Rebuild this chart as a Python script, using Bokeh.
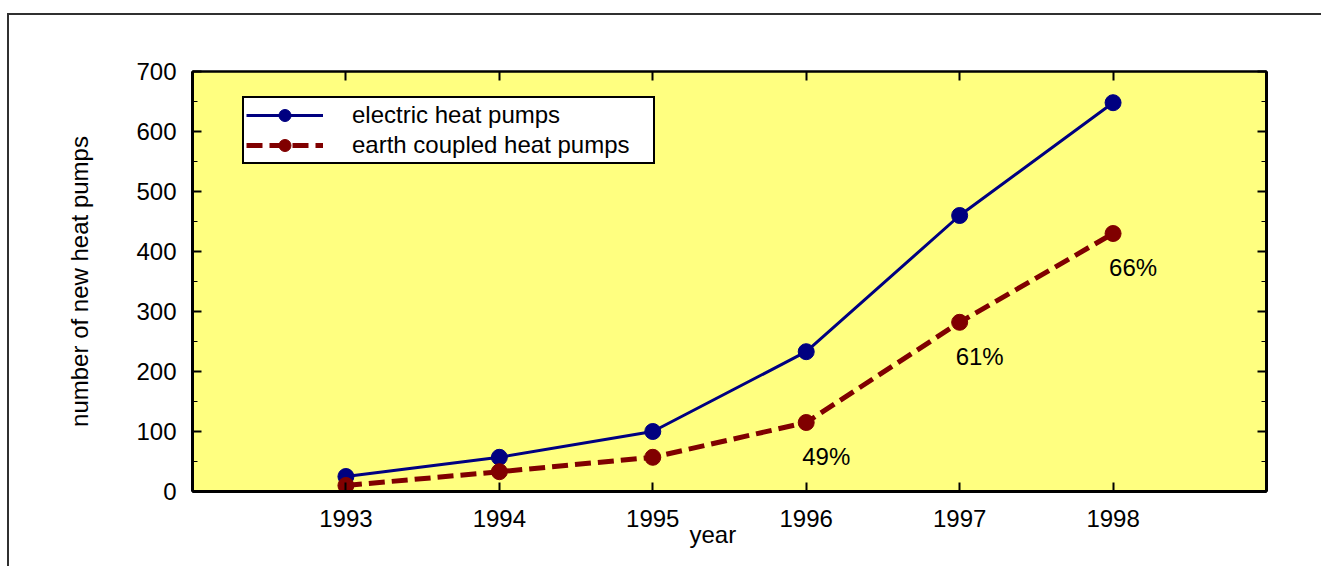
from bokeh.plotting import figure
from bokeh.models import (ColumnDataSource, Range1d, LinearAxis, FixedTicker, Legend, LegendItem)
from bokeh.embed import file_html
from bokeh.resources import INLINE
from bokeh.core.properties import value

years = [1993, 1994, 1995, 1996, 1997, 1998]
electric = [25, 57, 100, 233, 460, 648]
earth = [10, 33, 57, 115, 282, 430]
pct_years = [1996, 1997, 1998]
pct_values = [115, 282, 430]
pct_labels = ["49%", "61%", "66%"]
y_ticks = [0, 100, 200, 300, 400, 500, 600, 700]
y_minor = [50, 150, 250, 350, 450, 550, 650]

FONT = "Liberation Sans"
FS = "24px"

p = figure(width=1314, height=553, output_backend="svg", toolbar_location=None,
           x_range=Range1d(1992, 1999), y_range=Range1d(0, 700),
           min_border_left=183, min_border_right=57, min_border_top=56, min_border_bottom=77,
           background_fill_color="#FFFF80", border_fill_color="white")
# outer frame (top and left lines only, as in the original page)
p.styles = {"margin-left": "7px", "margin-top": "13px",
            "border-top": "2px solid #303030", "border-left": "2px solid #303030"}
p.grid.visible = False
p.outline_line_color = "black"
p.outline_line_width = 2

src_e = ColumnDataSource(dict(x=years, y=electric))
src_g = ColumnDataSource(dict(x=years, y=earth))

l1 = p.line("x", "y", source=src_e, line_color="#000080", line_width=3)
m1 = p.scatter("x", "y", source=src_e, size=16, fill_color="#000080", line_color="#000080")
l2 = p.line("x", "y", source=src_g, line_color="#800000", line_width=5, line_dash="16 7")
m2 = p.scatter("x", "y", source=src_g, size=16, fill_color="#800000", line_color="#800000")

src_p = ColumnDataSource(dict(x=pct_years, y=pct_values, t=pct_labels))
p.text("x", "y", text="t", source=src_p, text_font=value(FONT), text_font_size=FS,
       text_align="left", text_baseline="middle", x_offset=-4, y_offset=34, text_color="black")

# axes
xax = p.xaxis[0]
xax.ticker = FixedTicker(ticks=years)
xax.major_tick_in = 9
xax.major_tick_out = 0
xax.minor_tick_line_color = None
xax.axis_line_width = 3
xax.major_tick_line_width = 2
xax.major_label_text_font = FONT
xax.major_label_text_font_size = FS
xax.major_label_text_color = "black"
xax.major_label_standoff = 18
xax.axis_label = "year\u00a0\u00a0\u00a0\u00a0\u00a0"
xax.axis_label_text_font = FONT
xax.axis_label_text_font_size = FS
xax.axis_label_text_font_style = "normal"
xax.axis_label_text_color = "black"
xax.axis_label_standoff = -9

yax = p.yaxis[0]
yax.ticker = FixedTicker(ticks=y_ticks, minor_ticks=y_minor)
yax.major_tick_in = 9
yax.major_tick_out = 0
yax.minor_tick_in = 5
yax.minor_tick_out = 0
yax.axis_line_width = 3
yax.major_tick_line_width = 2
yax.minor_tick_line_width = 1
yax.major_label_text_font = FONT
yax.major_label_text_font_size = FS
yax.major_label_text_color = "black"
yax.major_label_standoff = 16
yax.axis_label = "number of new heat pumps"
yax.axis_label_text_font = FONT
yax.axis_label_text_font_size = FS
yax.axis_label_text_font_style = "normal"
yax.axis_label_text_color = "black"
yax.axis_label_standoff = 40

top = LinearAxis(ticker=FixedTicker(ticks=years), major_label_text_font_size="2px",
                 major_label_text_color=None,
                 major_tick_in=9, major_tick_out=0, minor_tick_line_color=None,
                 axis_line_width=2, major_tick_line_width=2)
p.add_layout(top, "above")
right = LinearAxis(ticker=FixedTicker(ticks=y_ticks, minor_ticks=y_minor),
                   major_label_text_font_size="2px", major_label_text_color=None,
                   major_tick_in=9, major_tick_out=0, minor_tick_in=5, minor_tick_out=0,
                   axis_line_width=3, major_tick_line_width=2)
p.add_layout(right, "right")

legend = Legend(items=[LegendItem(label="electric heat pumps", renderers=[l1, m1]),
                       LegendItem(label="earth coupled heat pumps", renderers=[l2, m2])],
                location=(50, 327), padding=2, margin=0, spacing=0,
                glyph_width=77, glyph_height=30, label_height=30, label_width=299,
                label_standoff=29, label_text_font=FONT, label_text_font_size=FS,
                label_text_color="black",
                border_line_color="black", border_line_width=2, border_line_alpha=1,
                background_fill_color="white", background_fill_alpha=1)
p.add_layout(legend)

open("out.html", "w").write(file_html(p, INLINE))
